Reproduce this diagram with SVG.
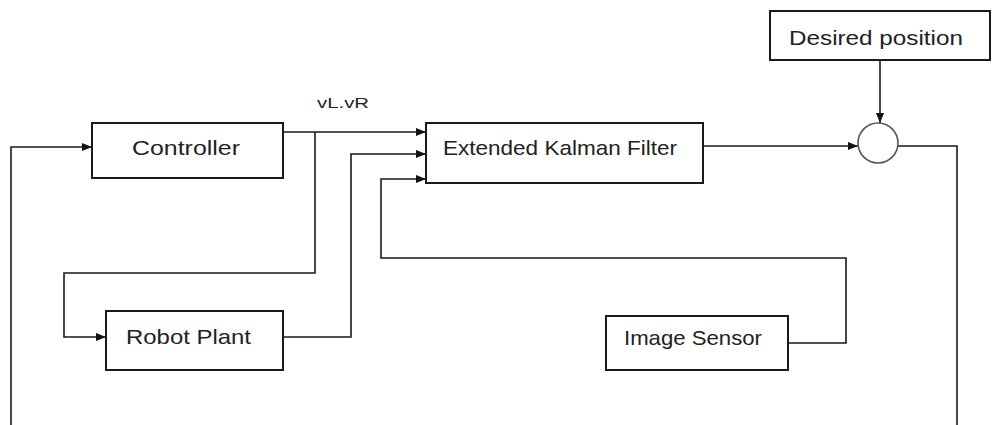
<svg xmlns="http://www.w3.org/2000/svg" width="992" height="425" viewBox="0 0 992 425">
<defs>
<marker id="ah" viewBox="0 0 10 10" refX="10" refY="5" markerWidth="10" markerHeight="10" markerUnits="userSpaceOnUse" orient="auto">
<path d="M0,1 L10,5 L0,9 z" fill="#111"/>
</marker>
</defs>
<style>
.box{fill:#fff;stroke:#1a1a1a;stroke-width:2}
.lbl{font-family:"Liberation Sans",Arial,sans-serif;font-size:21px;fill:#222}
.ln{fill:none;stroke:#1a1a1a;stroke-width:1.6}
.arr{fill:none;stroke:#1a1a1a;stroke-width:1.6;marker-end:url(#ah)}
</style>
<rect width="992" height="425" fill="#fff"/>
<g id="connectors">
<path class="arr" d="M11,425 V147 H92"/>
<path class="arr" d="M283,132 H426"/>
<path class="arr" d="M315,132 V273 H64 V337 H106"/>
<path class="arr" d="M283,337 H351 V154 H426"/>
<path class="arr" d="M788,343 H846 V258 H381 V179 H426"/>
<path class="arr" d="M703,146 H858"/>
<path class="arr" d="M880,60 V123"/>
<path class="ln" d="M898,146 H957 V425"/>
<text x="343" y="108" text-anchor="middle" class="lbl" style="font-size:15px" textLength="52" lengthAdjust="spacingAndGlyphs">vL.vR</text>
</g>
<g id="controller">
<rect class="box" x="92" y="123" width="191" height="55"/>
<text class="lbl" x="132" y="155" textLength="108" lengthAdjust="spacingAndGlyphs">Controller</text>
</g>
<g id="ekf">
<rect class="box" x="426" y="123" width="277" height="60"/>
<text class="lbl" x="443" y="155" textLength="234" lengthAdjust="spacingAndGlyphs">Extended Kalman Filter</text>
</g>
<g id="robot-plant">
<rect class="box" x="106" y="311" width="177" height="59"/>
<text class="lbl" x="126" y="344" textLength="125" lengthAdjust="spacingAndGlyphs">Robot Plant</text>
</g>
<g id="image-sensor">
<rect class="box" x="606" y="316" width="182" height="54"/>
<text class="lbl" x="624" y="345" textLength="138" lengthAdjust="spacingAndGlyphs">Image Sensor</text>
</g>
<g id="desired-position">
<rect class="box" x="770" y="11" width="220" height="49"/>
<text class="lbl" x="789" y="45" textLength="174" lengthAdjust="spacingAndGlyphs">Desired position</text>
</g>
<g id="sum">
<circle cx="878" cy="143" r="20" fill="#fff" stroke="#555" stroke-width="1.6"/>
</g>
</svg>
